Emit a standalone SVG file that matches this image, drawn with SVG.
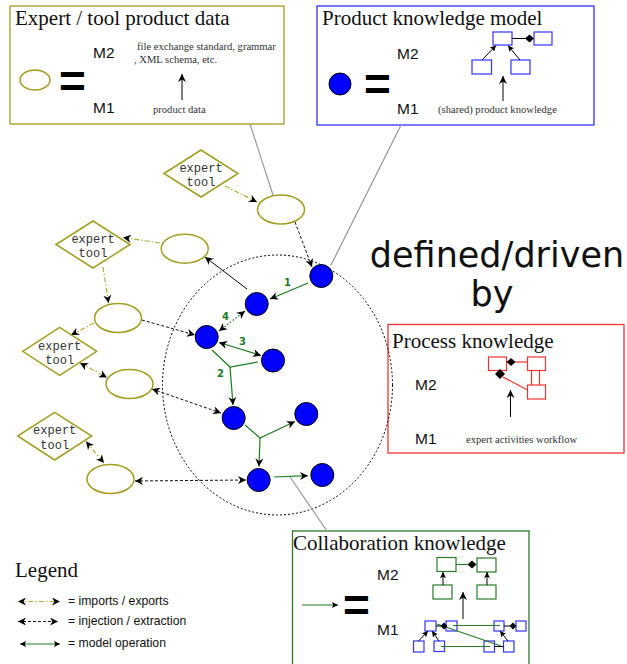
<svg xmlns="http://www.w3.org/2000/svg" width="627" height="664" viewBox="0 0 627 664">
  <style>
    .title { font-family: "Liberation Serif", serif; font-size: 21px; fill: #111; }
    .small { font-family: "Liberation Serif", serif; font-size: 10.6px; fill: #333; }
    .lvl { font-family: "Liberation Sans", sans-serif; font-size: 15.5px; fill: #111; }
    .eq { font-family: "Liberation Sans", sans-serif; font-size: 46px; font-weight: bold; fill: #000; }
    .tool { font-family: "Liberation Mono", monospace; font-size: 12px; fill: #333; text-anchor: middle; }
    .num { font-family: "DejaVu Sans", sans-serif; font-size: 10px; font-weight: bold; fill: #1e7b1e; }
    .leg { font-family: "Liberation Sans", sans-serif; font-size: 12.2px; fill: #111; }
    .big { font-family: "DejaVu Sans", sans-serif; font-size: 35px; fill: #111; text-anchor: middle; }
    .olive { fill: #fff; stroke: #a39d22; stroke-width: 1.5; }
    .bnode { fill: #0000ff; stroke: #000; stroke-width: 1; }
    .imp { fill: none; stroke: #b3ad3a; stroke-width: 1.2; stroke-dasharray: 5 2 1.5 2; }
    .inj { fill: none; stroke: #111; stroke-width: 1; stroke-dasharray: 3 2; }
    .op { fill: none; stroke: #1e7b1e; stroke-width: 1.2; }
    .call { fill: none; stroke: #999; stroke-width: 1.2; }
    .bk { fill: none; stroke: #000; stroke-width: 1; }
  </style>
  <defs>
    <marker id="ah" viewBox="0 0 10 10" refX="10" refY="5" markerWidth="9" markerHeight="8" markerUnits="userSpaceOnUse" orient="auto-start-reverse">
      <path d="M0,0 L10,5 L0,10 L3,5 z" fill="#000"/>
    </marker>
    <marker id="ahs" viewBox="0 0 10 10" refX="10" refY="5" markerWidth="6" markerHeight="6" markerUnits="userSpaceOnUse" orient="auto-start-reverse">
      <path d="M0,0 L10,5 L0,10 L2,5 z" fill="#000"/>
    </marker>
  </defs>

  <!-- Expert / tool product data -->
  <g id="box-tool-data">
    <rect x="10" y="6" width="274" height="118" fill="none" stroke="#a39d22" stroke-width="1.3"/>
    <text class="title" x="15" y="25">Expert / tool product data</text>
    <ellipse class="olive" cx="35" cy="80" rx="15" ry="10"/>
    <text class="eq" x="59" y="97">=</text>
    <text class="lvl" x="93" y="58">M2</text>
    <text class="lvl" x="93" y="113">M1</text>
    <text class="small" x="137" y="50">file exchange standard, grammar</text>
    <text class="small" x="134" y="63">, XML schema, etc.</text>
    <line class="bk" x1="182" y1="100" x2="182" y2="74" marker-end="url(#ah)"/>
    <text class="small" x="153" y="113">product data</text>
  </g>

  <!-- Product knowledge model -->
  <g id="box-product-model">
    <rect x="317" y="6" width="277" height="119" fill="none" stroke="#3333ff" stroke-width="1.3"/>
    <text class="title" x="322" y="25">Product knowledge model</text>
    <circle class="bnode" cx="340" cy="84" r="11"/>
    <text class="eq" x="364" y="100">=</text>
    <text class="lvl" x="397" y="59">M2</text>
    <text class="lvl" x="397" y="114">M1</text>
    <g fill="#fff" stroke="#3333ff" stroke-width="1.2">
      <rect x="493" y="32" width="19" height="13"/>
      <rect x="534" y="32" width="18" height="13"/>
      <rect x="472" y="60" width="19.5" height="14"/>
      <rect x="511" y="60" width="19" height="14"/>
    </g>
    <line class="bk" x1="512" y1="38.5" x2="526" y2="38.5"/>
    <polygon points="525,38.5 529.5,34.5 534,38.5 529.5,42.5" fill="#000"/>
    <line class="bk" x1="482" y1="60" x2="496" y2="45.5" marker-end="url(#ahs)"/>
    <line class="bk" x1="520" y1="60" x2="508" y2="45.5" marker-end="url(#ahs)"/>
    <line class="bk" x1="503" y1="101" x2="503" y2="76" marker-end="url(#ah)"/>
    <text class="small" x="438" y="113">(shared) product knowledge</text>
  </g>

  <!-- Process knowledge -->
  <g id="box-process">
    <rect x="388" y="324.5" width="236" height="128.5" fill="none" stroke="#ee3333" stroke-width="1.3"/>
    <text class="title" x="392" y="348">Process knowledge</text>
    <text class="lvl" x="415" y="390">M2</text>
    <text class="lvl" x="415" y="444">M1</text>
    <g fill="#fff" stroke="#ee3333" stroke-width="1.2">
      <rect x="488.5" y="357" width="18" height="13.5"/>
      <rect x="527.5" y="357" width="18" height="13.5"/>
      <rect x="527.5" y="385" width="18" height="14"/>
    </g>
    <g stroke="#ee3333" stroke-width="1.2">
      <line x1="515" y1="362" x2="527.5" y2="362"/>
      <line x1="531.5" y1="370.5" x2="531.5" y2="385"/>
      <line x1="539.5" y1="370.5" x2="539.5" y2="385"/>
      <line x1="503" y1="377" x2="527.5" y2="390"/>
    </g>
    <polygon points="506.5,362 511,358 515.5,362 511,366" fill="#000"/>
    <polygon points="500,369 505,374 500,379 495,374" fill="#000"/>
    <line class="bk" x1="510.5" y1="417" x2="510.5" y2="390" marker-end="url(#ah)"/>
    <text class="small" x="466" y="443">expert activities workflow</text>
  </g>

  <!-- Collaboration knowledge -->
  <g id="box-collaboration">
    <rect x="292.5" y="531" width="236.5" height="140" fill="none" stroke="#2a7a2a" stroke-width="1.3"/>
    <text class="title" x="293" y="550">Collaboration knowledge</text>
    <line class="op" x1="302" y1="605" x2="338" y2="605" marker-end="url(#ahs)"/>
    <text class="eq" x="343" y="621">=</text>
    <text class="lvl" x="377" y="580">M2</text>
    <text class="lvl" x="377" y="635">M1</text>
    <g fill="#fff" stroke="#2a7a2a" stroke-width="1.2">
      <rect x="437" y="557.5" width="19" height="14"/>
      <rect x="477" y="558" width="19" height="14"/>
      <rect x="433" y="585" width="19" height="14"/>
      <rect x="477" y="585" width="19" height="14"/>
    </g>
    <line x1="456" y1="564.5" x2="467.5" y2="564.5" stroke="#2a7a2a" stroke-width="1.2"/>
    <polygon points="467.5,564.5 472,560.5 476.5,564.5 472,568.5" fill="#000"/>
    <line class="bk" x1="443" y1="585" x2="443" y2="572" marker-end="url(#ahs)"/>
    <line class="bk" x1="487" y1="585" x2="487" y2="572" marker-end="url(#ahs)"/>
    <line class="bk" x1="463" y1="619" x2="463" y2="592" marker-end="url(#ah)"/>
    <g fill="#fff" stroke="#3333ff" stroke-width="1.2">
      <rect x="425" y="621" width="11" height="10"/>
      <rect x="446" y="621" width="11" height="10"/>
      <rect x="494" y="621" width="10" height="10"/>
      <rect x="516" y="621" width="10" height="10"/>
      <rect x="413.5" y="641" width="10.5" height="11"/>
      <rect x="434" y="641" width="10.5" height="10.5"/>
      <rect x="484" y="641" width="10.5" height="11"/>
      <rect x="503.5" y="641" width="10.5" height="11"/>
    </g>
    <g stroke="#2a7a2a" stroke-width="1.2">
      <line x1="453" y1="625.5" x2="500" y2="625.5"/>
      <line x1="437" y1="624" x2="501" y2="646"/>
      <line x1="441" y1="646.5" x2="490" y2="646.5"/>
    </g>
    <line class="bk" x1="436" y1="626" x2="441" y2="626"/>
    <polygon points="440.5,626 444,622.5 447.5,626 444,629.5" fill="#000"/>
    <line class="bk" x1="504" y1="626" x2="510" y2="626"/>
    <polygon points="509.5,626 513,622.5 516.5,626 513,629.5" fill="#000"/>
    <line class="bk" x1="494.5" y1="646.5" x2="503.5" y2="646.5"/>
    <line class="bk" x1="418.5" y1="641" x2="428" y2="631" marker-end="url(#ahs)"/>
    <line class="bk" x1="439" y1="641" x2="432" y2="631" marker-end="url(#ahs)"/>
    <line class="bk" x1="508" y1="641" x2="500" y2="631" marker-end="url(#ahs)"/>
  </g>

  <text class="big" x="497" y="267">defined/driven</text>
  <text class="big" x="492" y="306">by</text>

  <!-- shared model space -->
  <ellipse id="model-space" cx="277.5" cy="385" rx="115" ry="130" fill="none" stroke="#000" stroke-width="1" stroke-dasharray="2 2"/>

  <!-- connectors -->
  <g id="connectors">
    <line class="call" x1="250" y1="124" x2="273" y2="195"/>
    <line class="call" x1="401" y1="125" x2="331" y2="265"/>
    <line class="call" x1="290" y1="477" x2="327" y2="531"/>

    <path class="imp" d="M225,186 L257,202" marker-end="url(#ah)"/>
    <path class="imp" d="M160,243 L123,237.5" marker-end="url(#ah)"/>
    <path class="imp" d="M103,267 L108.5,303" marker-end="url(#ah)"/>
    <path class="imp" d="M94,323 L71,335" marker-end="url(#ah)"/>
    <path class="imp" d="M80,363 L107,377.5" marker-start="url(#ah)" marker-end="url(#ah)"/>
    <path class="imp" d="M86,441.5 L104,463" marker-start="url(#ah)" marker-end="url(#ah)"/>

    <path class="inj" d="M295,222 L312,267" marker-end="url(#ah)"/>
    <path class="bk" d="M247,289 L205,257" marker-end="url(#ah)"/>
    <path class="inj" d="M142,320 L195,335" marker-end="url(#ah)"/>
    <path class="inj" d="M221,413 L152,389" marker-start="url(#ah)" marker-end="url(#ah)"/>
    <path class="inj" d="M135,481 L246,480" marker-start="url(#ah)" marker-end="url(#ah)"/>

    <path class="op" d="M308,283 L270,299" marker-end="url(#ah)"/>
    <path class="op" d="M245,311 L219,331" stroke-dasharray="1.5 2" marker-start="url(#ah)" marker-end="url(#ah)"/>
    <path class="op" d="M219,342.5 L261,355.5" marker-start="url(#ah)" marker-end="url(#ah)"/>
    <path class="op" d="M212,350 L230,367 L258,362"/>
    <path class="op" d="M230,367 L233,405" marker-end="url(#ah)"/>
    <path class="op" d="M245,425 L260,438 L295,421.5" marker-end="url(#ah)"/>
    <path class="op" d="M260,438 L259,466.5" marker-end="url(#ah)"/>
    <path class="op" d="M274,477 L308,475.7" marker-end="url(#ah)"/>

    <text class="num" x="284" y="286">1</text>
    <text class="num" x="217" y="377">2</text>
    <text class="num" x="239" y="345">3</text>
    <text class="num" x="222" y="320">4</text>
  </g>

  <!-- expert tool nodes -->
  <g id="tool-1">
    <polygon class="olive" points="164,173.5 201,150 238,173.5 201,197"/>
    <text class="tool" x="201" y="171.5">expert</text>
    <text class="tool" x="201" y="186">tool</text>
  </g>
  <g id="tool-2">
    <polygon class="olive" points="56,244.5 93,221 130,244.5 93,268"/>
    <text class="tool" x="93" y="242.5">expert</text>
    <text class="tool" x="93" y="257">tool</text>
  </g>
  <g id="tool-3">
    <polygon class="olive" points="22.7,351.3 59.7,327.3 96.7,351.3 59.7,375.3"/>
    <text class="tool" x="59.7" y="349.5">expert</text>
    <text class="tool" x="59.7" y="364">tool</text>
  </g>
  <g id="tool-4">
    <polygon class="olive" points="17.7,436 54.7,412.3 91.7,436 54.7,460"/>
    <text class="tool" x="54.7" y="434">expert</text>
    <text class="tool" x="54.7" y="448.5">tool</text>
  </g>

  <!-- product data nodes -->
  <g id="data-1"><ellipse class="olive" cx="281" cy="209.5" rx="23.5" ry="14.5"/></g>
  <g id="data-2"><ellipse class="olive" cx="184.7" cy="248.7" rx="23.5" ry="14.5"/></g>
  <g id="data-3"><ellipse class="olive" cx="118" cy="318" rx="23.5" ry="14.5"/></g>
  <g id="data-4"><ellipse class="olive" cx="129.5" cy="384" rx="23.5" ry="14.5"/></g>
  <g id="data-5"><ellipse class="olive" cx="110.5" cy="479" rx="23.5" ry="14.5"/></g>

  <!-- product knowledge nodes -->
  <g id="pk-1"><circle class="bnode" cx="321.3" cy="276" r="11.5"/></g>
  <g id="pk-2"><circle class="bnode" cx="256.7" cy="304" r="11.5"/></g>
  <g id="pk-3"><circle class="bnode" cx="206.7" cy="337" r="11.5"/></g>
  <g id="pk-4"><circle class="bnode" cx="273" cy="360.5" r="11.5"/></g>
  <g id="pk-5"><circle class="bnode" cx="233.7" cy="418" r="11.5"/></g>
  <g id="pk-6"><circle class="bnode" cx="306.3" cy="414" r="11.5"/></g>
  <g id="pk-7"><circle class="bnode" cx="258.7" cy="480" r="11.5"/></g>
  <g id="pk-8"><circle class="bnode" cx="322.3" cy="475" r="11.5"/></g>

  <!-- legend -->
  <g id="legend">
    <text class="title" x="15" y="577">Legend</text>
    <path class="imp" d="M18,601.5 L60,601.5" marker-start="url(#ah)" marker-end="url(#ah)"/>
    <text class="leg" x="68" y="605">= imports / exports</text>
    <path class="inj" d="M18,621.5 L58,621.5" marker-start="url(#ah)" marker-end="url(#ah)"/>
    <text class="leg" x="68" y="625">= injection / extraction</text>
    <path class="op" d="M20,644 L60,644" marker-start="url(#ahs)" marker-end="url(#ahs)"/>
    <text class="leg" x="68" y="647">= model operation</text>
  </g>
</svg>
